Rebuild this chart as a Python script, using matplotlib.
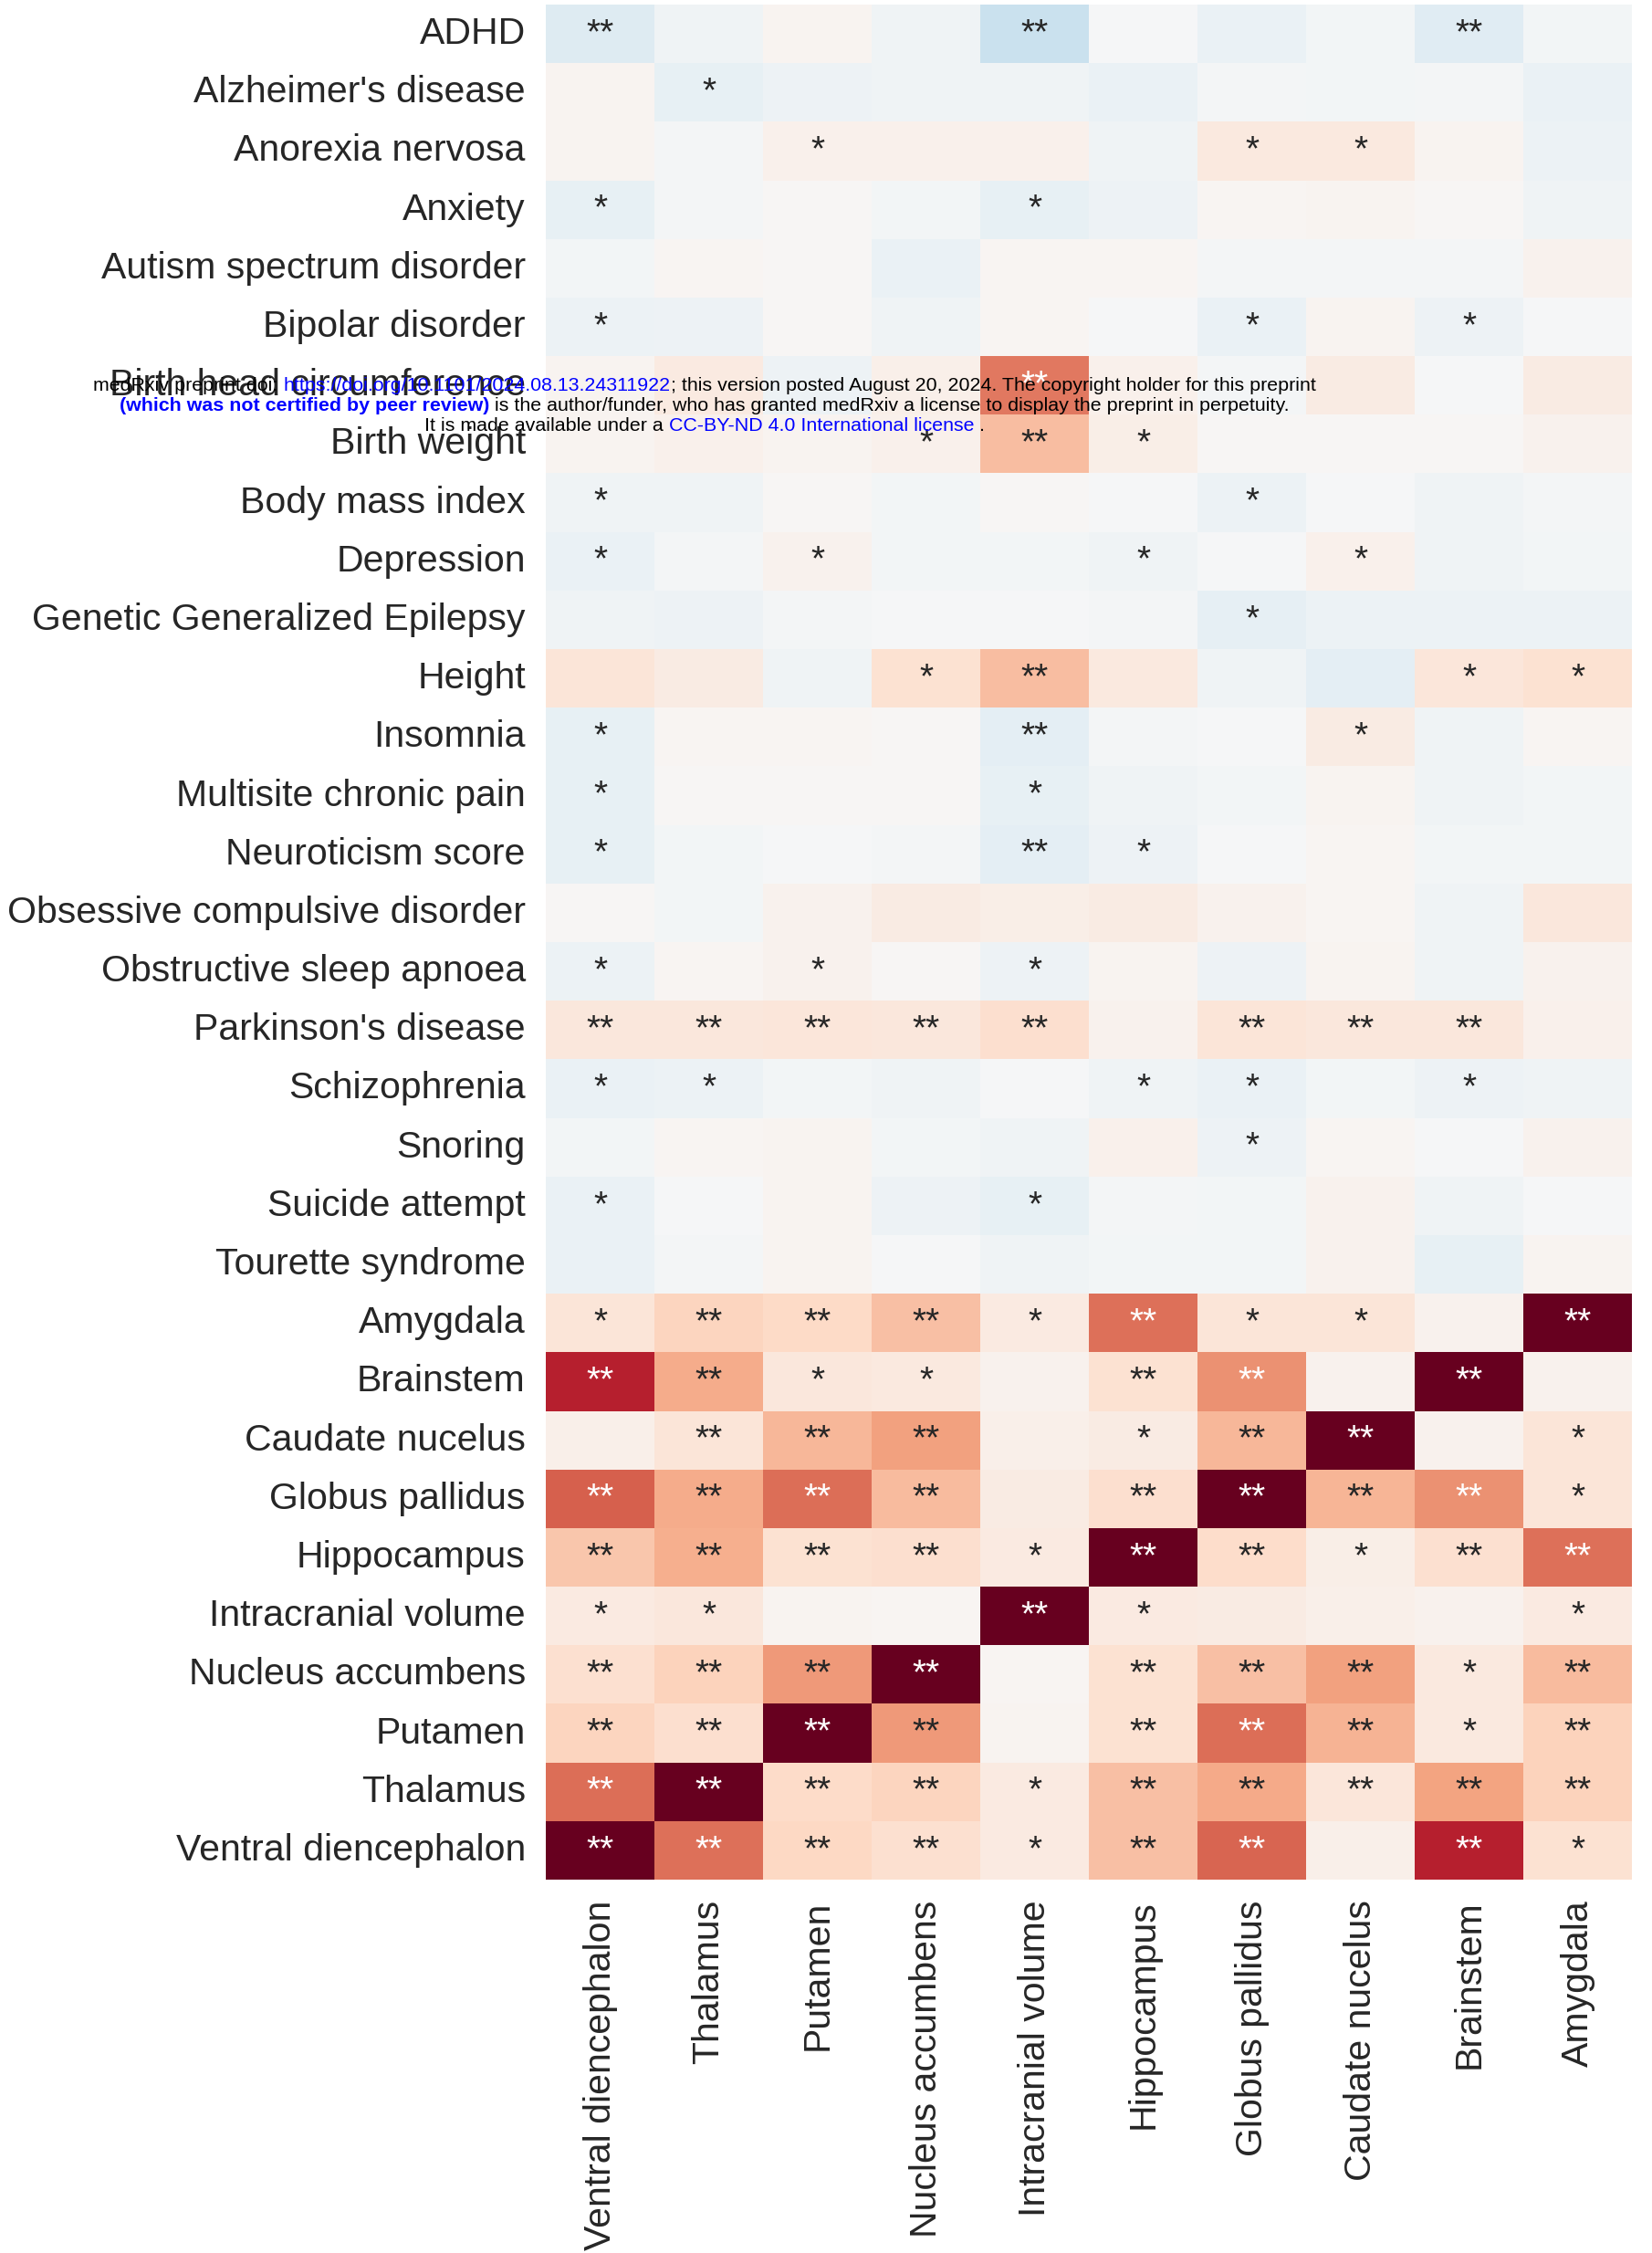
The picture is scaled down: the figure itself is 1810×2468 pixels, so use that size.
import numpy as np
import pandas as pd
import seaborn as sns
import matplotlib
matplotlib.use('Agg')
from matplotlib import pyplot as plt
from matplotlib import font_manager

# rows of the heatmap (traits, then brain regions)
traits = ["ADHD", "Alzheimer's disease", "Anorexia nervosa", "Anxiety",
          "Autism spectrum disorder", "Bipolar disorder", "Birth head circumference",
          "Birth weight", "Body mass index", "Depression", "Genetic Generalized Epilepsy",
          "Height", "Insomnia", "Multisite chronic pain", "Neuroticism score",
          "Obsessive compulsive disorder", "Obstructive sleep apnoea", "Parkinson's disease",
          "Schizophrenia", "Snoring", "Suicide attempt", "Tourette syndrome",
          "Amygdala", "Brainstem", "Caudate nucelus", "Globus pallidus", "Hippocampus",
          "Intracranial volume", "Nucleus accumbens", "Putamen", "Thalamus",
          "Ventral diencephalon"]

# columns
regions = ["Ventral diencephalon", "Thalamus", "Putamen", "Nucleus accumbens",
           "Intracranial volume", "Hippocampus", "Globus pallidus", "Caudate nucelus",
           "Brainstem", "Amygdala"]

# genetic correlations
rg = [
    [-0.13, -0.04, 0.03, -0.04, -0.22, -0.01, -0.07, -0.03, -0.12, -0.03],
    [0.03, -0.08, -0.05, -0.04, -0.04, -0.07, -0.02, -0.03, -0.02, -0.07],
    [0.03, -0.02, 0.05, 0.05, 0.05, -0.04, 0.10, 0.10, 0.03, -0.06],
    [-0.08, -0.02, 0.01, -0.03, -0.08, -0.05, 0.02, 0.03, 0.01, -0.04],
    [-0.03, 0.02, 0.01, -0.07, 0.02, 0.02, -0.02, -0.02, -0.02, 0.04],
    [-0.06, -0.05, 0.01, -0.04, 0.02, -0.01, -0.07, 0.03, -0.05, -0.01],
    [0.03, 0.09, -0.05, 0.06, 0.53, 0.05, -0.02, 0.08, -0.01, 0.08],
    [0.03, 0.05, 0.03, 0.05, 0.31, 0.07, 0.01, 0.01, 0.01, 0.04],
    [-0.04, -0.04, 0.01, -0.03, 0.01, -0.01, -0.06, -0.01, -0.04, -0.02],
    [-0.07, -0.02, 0.04, -0.03, -0.03, -0.04, -0.01, 0.05, -0.04, -0.03],
    [-0.04, -0.05, -0.02, -0.01, -0.01, -0.02, -0.09, -0.06, -0.06, -0.06],
    [0.13, 0.08, -0.04, 0.15, 0.31, 0.10, -0.04, -0.10, 0.12, 0.15],
    [-0.08, 0.02, 0.02, 0.01, -0.10, -0.02, -0.01, 0.08, -0.04, 0.02],
    [-0.08, 0.01, 0.01, 0.01, -0.08, -0.04, -0.03, 0.03, -0.04, -0.03],
    [-0.08, -0.03, -0.01, -0.02, -0.10, -0.05, -0.01, 0.02, -0.03, -0.03],
    [0.01, -0.03, 0.04, 0.08, 0.07, 0.08, 0.04, 0.02, -0.04, 0.11],
    [-0.06, 0.02, 0.04, 0.01, -0.05, 0.03, -0.05, 0.03, -0.04, 0.04],
    [0.11, 0.11, 0.12, 0.11, 0.17, 0.04, 0.13, 0.11, 0.11, 0.05],
    [-0.07, -0.06, -0.03, -0.04, -0.01, -0.04, -0.07, -0.03, -0.05, -0.04],
    [-0.03, 0.02, 0.03, -0.03, -0.04, 0.05, -0.05, 0.02, -0.01, 0.04],
    [-0.07, -0.01, 0.03, -0.05, -0.08, -0.02, -0.03, 0.04, -0.04, -0.01],
    [-0.07, -0.02, 0.03, -0.01, -0.04, -0.03, -0.03, 0.04, -0.08, 0.03],
    [0.13, 0.22, 0.20, 0.30, 0.09, 0.55, 0.13, 0.13, 0.04, 1.00],
    [0.78, 0.37, 0.11, 0.10, 0.04, 0.15, 0.46, 0.04, 1.00, 0.04],
    [0.06, 0.13, 0.33, 0.41, 0.06, 0.08, 0.33, 1.00, 0.04, 0.13],
    [0.60, 0.37, 0.56, 0.32, 0.08, 0.17, 1.00, 0.34, 0.46, 0.13],
    [0.28, 0.36, 0.15, 0.17, 0.09, 1.00, 0.18, 0.07, 0.16, 0.55],
    [0.09, 0.11, 0.03, 0.02, 1.00, 0.09, 0.08, 0.06, 0.04, 0.09],
    [0.16, 0.23, 0.43, 1.00, 0.02, 0.15, 0.30, 0.41, 0.10, 0.32],
    [0.22, 0.17, 1.00, 0.43, 0.03, 0.15, 0.56, 0.35, 0.10, 0.23],
    [0.56, 1.00, 0.19, 0.22, 0.09, 0.30, 0.38, 0.12, 0.40, 0.23],
    [1.00, 0.55, 0.21, 0.16, 0.09, 0.30, 0.58, 0.06, 0.78, 0.15],
]

# significance: 0 none, 1 = *, 2 = **
stars = [
    [2, 0, 0, 0, 2, 0, 0, 0, 2, 0],
    [0, 1, 0, 0, 0, 0, 0, 0, 0, 0],
    [0, 0, 1, 0, 0, 0, 1, 1, 0, 0],
    [1, 0, 0, 0, 1, 0, 0, 0, 0, 0],
    [0, 0, 0, 0, 0, 0, 0, 0, 0, 0],
    [1, 0, 0, 0, 0, 0, 1, 0, 1, 0],
    [0, 0, 0, 0, 2, 0, 0, 0, 0, 0],
    [0, 0, 0, 1, 2, 1, 0, 0, 0, 0],
    [1, 0, 0, 0, 0, 0, 1, 0, 0, 0],
    [1, 0, 1, 0, 0, 1, 0, 1, 0, 0],
    [0, 0, 0, 0, 0, 0, 1, 0, 0, 0],
    [0, 0, 0, 1, 2, 0, 0, 0, 1, 1],
    [1, 0, 0, 0, 2, 0, 0, 1, 0, 0],
    [1, 0, 0, 0, 1, 0, 0, 0, 0, 0],
    [1, 0, 0, 0, 2, 1, 0, 0, 0, 0],
    [0, 0, 0, 0, 0, 0, 0, 0, 0, 0],
    [1, 0, 1, 0, 1, 0, 0, 0, 0, 0],
    [2, 2, 2, 2, 2, 0, 2, 2, 2, 0],
    [1, 1, 0, 0, 0, 1, 1, 0, 1, 0],
    [0, 0, 0, 0, 0, 0, 1, 0, 0, 0],
    [1, 0, 0, 0, 1, 0, 0, 0, 0, 0],
    [0, 0, 0, 0, 0, 0, 0, 0, 0, 0],
    [1, 2, 2, 2, 1, 2, 1, 1, 0, 2],
    [2, 2, 1, 1, 0, 2, 2, 0, 2, 0],
    [0, 2, 2, 2, 0, 1, 2, 2, 0, 1],
    [2, 2, 2, 2, 0, 2, 2, 2, 2, 1],
    [2, 2, 2, 2, 1, 2, 2, 1, 2, 2],
    [1, 1, 0, 0, 2, 1, 0, 0, 0, 1],
    [2, 2, 2, 2, 0, 2, 2, 2, 1, 2],
    [2, 2, 2, 2, 0, 2, 2, 2, 1, 2],
    [2, 2, 2, 2, 1, 2, 2, 2, 2, 2],
    [2, 2, 2, 2, 1, 2, 2, 0, 2, 1],
]

sns.set_theme(style='white')
plt.rcParams['font.family'] = ['Liberation Sans', 'DejaVu Sans']

df = pd.DataFrame(rg, index=traits, columns=regions)
labels = np.array([['*' * s for s in row] for row in stars])

fig = plt.figure(figsize=(18.1, 24.68), dpi=100)
ax = fig.add_axes([0.3304, 0.1657, 0.6575, 0.8323])
sns.heatmap(df, ax=ax, cmap='RdBu_r', vmin=-1, vmax=1, center=0,
            annot=labels, fmt='', cbar=False, annot_kws={'size': 28})
ax.tick_params(axis='both', length=0, pad=16, labelsize=29.5)
plt.setp(ax.get_xticklabels(), rotation=90)
plt.setp(ax.get_yticklabels(), rotation=0)
ax.set_xlabel('')
ax.set_ylabel('')

# medRxiv banner stamped over the figure
try:
    font_manager.findfont('Liberation Sans Narrow', fallback_to_default=False)
    hfont = 'Liberation Sans Narrow'
except ValueError:
    hfont = 'Liberation Sans'

banner = [
    [("medRxiv preprint doi: ", 'black', 'normal'),
     ("https://doi.org/10.1101/2024.08.13.24311922", 'blue', 'normal'),
     ("; this version posted August 20, 2024. The copyright holder for this preprint", 'black', 'normal')],
    [("(which was not certified by peer review)", 'blue', 'bold'),
     (" is the author/funder, who has granted medRxiv a license to display the preprint in perpetuity.", 'black', 'normal')],
    [("It is made available under a ", 'black', 'normal'),
     ("CC-BY-ND 4.0 International license", 'blue', 'normal'),
     (" .", 'black', 'normal')],
]
banner_y = [423, 444, 466]
center_x = 772
renderer = fig.canvas.get_renderer()
W, H = fig.bbox.width, fig.bbox.height


def place_line(parts, y_px, size):
    items = []
    for s, color, weight in parts:
        t = fig.text(0, 1 - y_px / H, s, color=color, fontweight=weight,
                     fontsize=size, va='center', ha='left', family=[hfont, 'DejaVu Sans'])
        items.append((t, t.get_window_extent(renderer).width))
    total = sum(w for _, w in items)
    x = center_x - total / 2
    for t, w in items:
        t.set_x(x / W)
        x += w
    return total


# size the banner so the first line spans about 1340 px like the reference
probe = fig.text(0, 0, ''.join(p[0] for p in banner[0]), fontsize=10, family=[hfont, 'DejaVu Sans'])
bsize = 10 * 1340 / probe.get_window_extent(renderer).width
probe.remove()

for parts, y in zip(banner, banner_y):
    place_line(parts, y, bsize)

fig.savefig('out.png', dpi=100)
